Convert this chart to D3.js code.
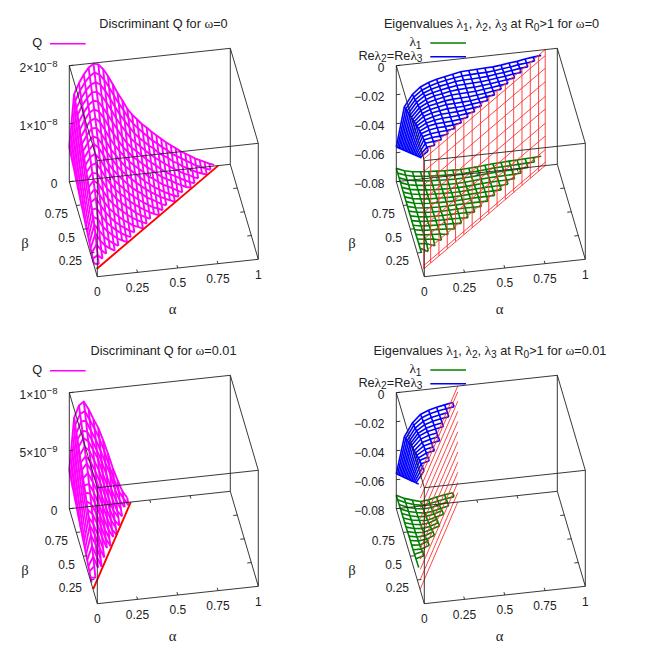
<!DOCTYPE html>
<html><head><meta charset="utf-8">
<script src="https://cdn.jsdelivr.net/npm/d3@7/dist/d3.min.js"></script>
<style>html,body{margin:0;padding:0;background:#fff}svg{display:block}</style>
</head><body><svg id="c" width="654" height="654"></svg>
<script>
// ---- grids ----
const alphaFine = [0,.03,.06,.09,.12,.15,.18,.21,.24,.27,.30,.33,.36,.39,.42,.45,.48,.51,.54,.57,.60,.63,.66,.69,.72,.75,.78,.81,.84,.87,.90];
const alphaCoarse = [0,.05,.10,.15,.20,.25,.30,.35,.40,.45,.50,.55,.60,.65,.70,.75,.80,.85,.90];
const betaFine0 = [1,.96,.92,.88,.84,.80,.76,.72,.68,.64,.60,.56,.52,.48,.44,.40,.36,.32,.28,.24,.20,.16,.12];
const betaFine1 = [1,.96,.92,.88,.84,.80,.76,.72,.68,.64,.60,.56,.52,.48,.44,.40,.36,.32,.28,.24,.20];
const betaCoarse0 = [1,.95,.90,.85,.80,.75,.70,.65,.60,.55,.50,.45,.40,.35,.30,.25,.20,.15,.10];
const betaCoarse1 = [1,.95,.90,.85,.80,.75,.70,.65,.60,.55,.50,.45,.40,.35,.30,.25,.20];

// ---- Q (units of 1e-8), omega = 0 ----
const qOmega0 = [
[.60,1.50,1.68,1.82,1.93,1.99,1.97,1.88,1.75,1.60,1.44,1.30,1.15,1.04,.95,.86,.79,.71,.64,.57,.50,.44,.38,.32,.27,.22,.17,.13,.09,.05,.02],
[.57,1.45,1.62,1.75,1.85,1.90,1.86,1.76,1.62,1.47,1.33,1.20,1.06,.95,.86,.78,.70,.62,.56,.49,.43,.36,.31,.26,.21,.16,.11,.08,.04,.01],
[.55,1.39,1.55,1.68,1.77,1.80,1.75,1.63,1.49,1.34,1.20,1.08,.96,.85,.76,.69,.61,.55,.47,.41,.36,.29,.25,.19,.15,.10,.06,.03,0],
[.52,1.33,1.50,1.61,1.70,1.70,1.62,1.50,1.36,1.21,1.08,.96,.84,.75,.68,.60,.53,.46,.40,.34,.28,.23,.18,.13,.10,.05,.02],
[.50,1.27,1.43,1.55,1.62,1.60,1.49,1.36,1.22,1.08,.95,.83,.74,.67,.59,.52,.45,.39,.32,.26,.21,.17,.12,.08,.04,.01],
[.47,1.21,1.37,1.49,1.54,1.49,1.37,1.22,1.08,.95,.83,.74,.65,.58,.51,.44,.38,.31,.25,.20,.16,.11,.07,.03,.01],
[.44,1.15,1.30,1.42,1.45,1.37,1.23,1.08,.95,.84,.74,.64,.57,.50,.43,.35,.30,.24,.18,.14,.10,.05,.01],
[.42,1.10,1.24,1.35,1.35,1.24,1.10,.95,.84,.73,.63,.56,.49,.42,.34,.28,.22,.17,.12,.08,.04,.01],
[.39,1.04,1.18,1.28,1.24,1.12,.97,.85,.73,.63,.55,.47,.40,.33,.27,.21,.16,.11,.07,.03,0],
[.37,.99,1.12,1.21,1.14,1.00,.85,.73,.63,.54,.46,.38,.32,.26,.19,.15,.10,.05,.02],
[.34,.93,1.06,1.11,1.01,.87,.75,.62,.53,.45,.37,.30,.24,.18,.13,.08,.05,.01],
[.31,.87,.99,1.01,.89,.75,.63,.52,.44,.37,.29,.23,.17,.12,.07,.03,0],
[.29,.81,.92,.90,.77,.63,.53,.43,.35,.28,.22,.15,.10,.06,.02],
[.26,.75,.85,.79,.65,.52,.42,.34,.27,.20,.14,.09,.05,.01],
[.23,.68,.77,.67,.53,.41,.33,.25,.18,.13,.07,.04,0],
[.21,.62,.68,.55,.42,.32,.24,.17,.11,.06,.02],
[.18,.56,.57,.43,.31,.23,.16,.10,.05,.01],
[.16,.50,.45,.31,.22,.15,.08,.04,0],
[.13,.43,.32,.21,.13,.07,.02],
[.10,.34,.21,.12,.06,.01],
[.08,.22,.11,.04],
[.05,.10,.03],
[.03,.01]];

// ---- Q (units of 1e-8), omega = 0.01 ----
const qOmega1 = [
[.33,.78,.88,.91,.84,.75,.67,.56,.44,.31,.20,.10,.04],
[.31,.75,.84,.86,.78,.70,.61,.50,.37,.25,.14,.07,.01],
[.30,.71,.81,.81,.72,.64,.54,.43,.33,.19,.09,.03],
[.28,.69,.76,.75,.67,.58,.48,.36,.23,.13,.05],
[.27,.66,.73,.70,.62,.54,.41,.29,.18,.07,.02],
[.25,.62,.69,.65,.56,.47,.35,.22,.11,.05],
[.24,.59,.64,.59,.50,.40,.28,.16,.06,.01],
[.22,.56,.61,.54,.45,.33,.21,.10,.03],
[.20,.52,.56,.48,.39,.27,.15,.05,0],
[.19,.49,.50,.42,.32,.20,.09,.02],
[.17,.46,.45,.36,.26,.13,.04],
[.16,.42,.39,.31,.19,.08,.01],
[.14,.38,.34,.25,.13,.03],
[.13,.35,.28,.18,.06],
[.11,.31,.23,.11,.02],
[.10,.26,.17,.05],
[.08,.20,.10,.01],
[.06,.14,.04],
[.05,.09],
[.03,.02],
[.02]];

// ---- Re lambda2 = Re lambda3 (units of -1e-3), omega = 0 ----
const reLambdaOmega0 = [
[56,29,21,16.5,14,12.3,11.2,10.1,9,8.7,8.5,8.2,8,7.4,6.5,6,5,4.3,3.7],
[53.2,27.2,19.6,15.4,13.1,11.5,10.4,9.4,8.6,8.3,8,7.9,7.4,6.6,6,5,4.4,3.7],
[50.3,25.3,18.1,14.2,12.1,10.7,9.6,8.6,8.1,8,7.7,7.4,6.6,5.9,5.1,4.3,3.8],
[47.4,23.5,16.6,12.8,11.2,9.9,8.9,8,7.8,7.5,7.3,6.7,5.9,5.2,4.3,3.8],
[44.6,21.7,15.2,12,10.2,9.2,8.1,7.6,7.3,7.1,6.6,5.9,5.2,4.4,3.7],
[41.7,19.9,13.8,11,9.5,8.4,7.4,7.2,6.9,6.6,5.9,5.2,4.4,3.7],
[38.9,18.1,12.4,10,8.8,7.6,7,6.8,6.5,5.9,5.3,4.4,3.8],
[36,16.3,11.2,9.1,8,6.9,6.7,6.4,6,5.2,4.4,3.8],
[33.2,14.4,10,8.2,7.2,6.4,6.2,5.9,5.1,4.4,3.8],
[30.3,12.6,9.1,7.5,6.4,6.1,5.8,5.2,4.4,3.8],
[27.5,11.1,8,6.7,5.9,5.6,5.2,4.5,3.8],
[24.6,9.6,7,5.9,5.5,5.2,4.5,3.7],
[21.8,8.2,6.3,5.3,5.1,4.5,3.7],
[18.9,7,5.5,5,4.5,3.7],
[16,5.9,4.8,4.5,3.7],
[13.2,5,4.4,3.7],
[10.3,4.4,3.7],
[7.5,3.8],
[4.7]];

// ---- lambda1 (units of -1e-3), omega = 0 ----
const lambda1Omega0 = [
[70.8,73,74.3,74.9,75.4,75.7,76,76.2,76.4,76.1,75.8,75.3,74.8,74.5,74.2,74,73.8,73.5,73.2],
[70.8,72.9,74.2,74.8,75.3,75.6,75.8,76,76.1,75.7,75.3,74.9,74.4,74.2,74,73.8,73.5,73.3],
[70.8,72.9,74,74.7,75.1,75.4,75.7,75.9,75.7,75.4,74.9,74.5,74.1,73.9,73.8,73.5,73.2],
[70.8,72.9,73.9,74.5,75,75.3,75.5,75.6,75.3,74.9,74.4,74.1,73.9,73.7,73.5,73.2],
[70.8,72.8,73.7,74.3,74.8,75,75.2,75.2,74.9,74.5,74.1,73.8,73.6,73.5,73.2],
[70.8,72.7,73.6,74.2,74.5,74.7,74.8,74.8,74.4,74,73.7,73.5,73.4,73.2],
[70.8,72.6,73.4,74,74.2,74.4,74.4,74.2,73.9,73.6,73.4,73.3,73.2],
[70.8,72.5,73.3,73.7,73.9,74,73.9,73.7,73.5,73.3,73.2,73.2],
[70.8,72.4,73.1,73.4,73.6,73.6,73.4,73.3,73.2,73.1,73.2],
[70.8,72.2,72.9,73.2,73.3,73.2,73,72.9,72.9,73],
[70.8,72,72.7,72.9,72.9,72.8,72.8,72.8,73],
[70.8,71.9,72.4,72.6,72.6,72.6,72.8,73],
[70.7,71.8,72.2,72.3,72.4,72.6,73],
[70.6,71.6,71.9,72.1,72.4,73],
[70.5,71.4,71.7,72,73],
[70.4,71.2,71.6,73],
[70.3,71,73],
[70.2,73],
[70.2]];

// ---- Re lambda2 = Re lambda3 (units of -1e-3), omega = 0.01 ----
const reLambdaOmega1 = [
[56,31,22,16.8,14.5,13,12,11],
[53,29,20.4,15.8,13.7,12.4,11.4,10.6],
[50.3,27,19,15,13,11.8,10.8],
[47.5,24.9,17.7,14,12.3,11.2,10.3],
[44.6,22.9,16.2,13.2,11.7,10.6],
[41.8,20.7,14.6,12.2,11,10],
[39,19,13.5,11.5,10.5],
[36.1,17.7,12.6,10.9,9.9],
[33.3,15.9,11.7,10.3,9.3],
[30.4,14.2,10.8,9.7],
[27.6,12.9,10.1,9.1],
[24.8,11.3,9.5],
[21.9,10.3,8.9],
[19.1,9.4],
[16.3,8.7],
[13.4],
[10.5]];

// ---- lambda1 (units of -1e-3), omega = 0.01 ----
const lambda1Omega1 = [
[70.8,73.5,75.3,76.8,76.3,75,74,73.2],
[70.6,73.2,75,76.2,75.6,74.4,73.4,72.6],
[70.5,73,74.5,75.5,75,73.8,72.4],
[70.3,72.7,74,75,74.3,73,71.8],
[70.2,72.4,73.6,74,73,71.2],
[70.1,72,73,73.4,72,70.5],
[70,71.7,72.6,72,70],
[69.8,71.3,72,71,69.2],
[69.6,71,71.2,69.8,68],
[69.4,70.6,70.3,68.2],
[69.2,70,69.5,67.4],
[69.1,69.6,67.6],
[69,69.2,67.2],
[68.8,67.6],
[68.6,67.2],
[68.4],
[68.2]];

// ---- R0 = 1 boundary and red plane ----
const boundaryAlpha0 = [.01,.925];
const boundaryBeta0 = [.08,1];
const boundaryAlpha1 = [.002,.382];
const boundaryBeta1 = [.155,1];
const planeVertAlpha0 = [.01,.0625,.125,.1875,.25,.3125,.375,.4375,.5,.5625,.625,.6875,.75,.8125,.875,.925];
const planeLevels0 = [0,-.0042,-.0129,-.0222,-.0323,-.041,-.0508,-.0596,-.069,-.0777,-.08];
const planeLevels1 = [0,-.004,-.0105,-.0175,-.0245,-.0315,-.0385,-.0455,-.0525,-.0595,-.0665,-.0735,-.08];

// ---- ticks ----
const alphaTicks = [0,.25,.5,.75,1];
const betaTicks = [.25,.5,.75];
const alphaTickLabels = ["0","0.25","0.5","0.75","1"];
const betaTickLabels = ["0.25","0.5","0.75"];
const eigTicks = [0,-.02,-.04,-.06,-.08];
const eigTickLabels = ["0","\u22120.02","\u22120.04","\u22120.06","\u22120.08"];

// ---- projection scales ----
const aX = d3.scaleLinear().domain([0,1]).range([0,161]);
const aY = d3.scaleLinear().domain([0,1]).range([0,-17.4]);
const bX = d3.scaleLinear().domain([0,1]).range([0,-28]);
const bY = d3.scaleLinear().domain([0,1]).range([0,-95]);
const ox = 97.3, oy = 276.7;
const sans = '"Liberation Sans",Arial,sans-serif', serif = '"Liberation Serif",serif';
const svg = d3.select("#c");
svg.append("rect").attr("width",654).attr("height",654).attr("fill","#fff");

function rich(g, x, y, anchor, segs, size){
  const t = g.append("text").attr("x",x).attr("y",y).attr("text-anchor",anchor)
    .attr("font-family",sans).attr("font-size",size||12).attr("fill","#222");
  let shift = 0;
  segs.forEach(s=>{
    const [txt,st] = Array.isArray(s)?s:[s,""];
    const want = st.includes("sub")?2.5:st.includes("sup")?-5:0;
    const ts = t.append("tspan").text(txt).attr("dy",want-shift);
    shift = want;
    if(st.includes("g")) ts.attr("font-family",serif).attr("font-size",(size||12)*1.05);
    if(st.includes("sub")||st.includes("sup")) ts.attr("font-size",(size||12)*0.8);
  });
  return t;
}
const G = s=>[s,"g"], SUB = s=>[s,"sub"], SUP = s=>[s,"sup"];

function panel(px,py,cfg){
  const g = svg.append("g").attr("transform",`translate(${px},${py})`);
  const zH = d3.scaleLinear().domain(cfg.zDomain).range([0,-116]);
  const P = (a,b,z)=>[ox+aX(a)+bX(b), oy+aY(a)+bY(b)+zH(z)];
  const line = d3.line();
  const zMin = cfg.zDomain[0], zMax = cfg.zDomain[1];

  // surfaces
  cfg.surfaces.forEach(s=>{
    const paths = [];
    s.rows.forEach((row,j)=>paths.push(row.map((v,i)=>P(s.alpha[i],s.beta[j],v*s.unit))));
    s.alpha.forEach((a,i)=>{
      const col = [];
      s.rows.forEach((row,j)=>{ if(i<row.length) col.push(P(a,s.beta[j],row[i]*s.unit)); });
      if(col.length>1) paths.push(col);
    });
    g.append("g").selectAll("path").data(paths).join("path")
      .attr("d",d=>line(d)).attr("fill","none").attr("stroke",s.color).attr("stroke-width",s.w);
  });

  // red plane
  if(cfg.plane){
    const bA=cfg.bAlpha, bB=cfg.bBeta;
    const betaOf = d3.scaleLinear().domain(bA).range(bB);
    const pg = g.append("g").attr("stroke","#ff3030").attr("stroke-width",.9).attr("fill","none");
    cfg.plane.levels.forEach(z=>pg.append("path").attr("d",line(bA.map((a,i)=>P(a,bB[i],z)))));
    cfg.plane.verts.forEach(a=>pg.append("path").attr("d",line([P(a,betaOf(a),zMin),P(a,betaOf(a),zMax)])));
  } else {
    g.append("path").attr("d",line(cfg.bAlpha.map((a,i)=>P(a,cfg.bBeta[i],0))))
      .attr("fill","none").attr("stroke","#f00").attr("stroke-width",1.9);
  }

  // box
  const box = [
   [[0,0,zMin],[1,0,zMin]],[[1,0,zMin],[1,1,zMin]],[[1,1,zMin],[0,1,zMin]],[[0,1,zMin],[0,0,zMin]],
   [[0,0,zMax],[1,0,zMax]],[[1,0,zMax],[1,1,zMax]],[[1,1,zMax],[0,1,zMax]],[[0,1,zMax],[0,0,zMax]],
   [[0,0,zMin],[0,0,zMax]],[[1,0,zMin],[1,0,zMax]],[[1,1,zMin],[1,1,zMax]],[[0,1,zMin],[0,1,zMax]]];
  const bg = g.append("g").attr("stroke","#222").attr("stroke-width",.9).attr("fill","none");
  box.forEach(e=>bg.append("path").attr("d",line(e.map(p=>P(...p)))));
  alphaTicks.slice(1,4).forEach(a=>{
    bg.append("path").attr("d",line([P(a,0,zMin),P(a,.03,zMin)]));
    bg.append("path").attr("d",line([P(a,1,zMin),P(a,.97,zMin)]));
  });
  betaTicks.forEach(b=>{
    bg.append("path").attr("d",line([P(0,b,zMin),P(.025,b,zMin)]));
    bg.append("path").attr("d",line([P(1,b,zMin),P(.975,b,zMin)]));
  });
  cfg.zTicks.forEach(z=>{
    bg.append("path").attr("d",line([P(0,1,z),P(.025,1,z)]));
  });

  // tick labels
  alphaTicks.forEach((a,i)=>{ const p=P(a,0,zMin); rich(g,p[0],p[1]+19.3,"middle",[alphaTickLabels[i]]); });
  betaTicks.forEach((b,i)=>{ const p=P(0,b,zMin); rich(g,p[0]-8.3,p[1]+12.3,"end",[betaTickLabels[i]]); });
  cfg.zTicks.forEach((z,i)=>{ const p=P(0,1,z); rich(g,57.5,p[1]+6.5,"end",cfg.zLabels[i]); });
  rich(g,172.7,314,"middle",[G("\u03b1")],14);
  rich(g,25,247.5,"middle",[G("\u03b2")],14);
  rich(g,cfg.titleX,28,"middle",cfg.title,12.7);

  // legend
  cfg.legend.forEach(l=>{
    rich(g,l.x,l.y+3.2,"end",l.label,12.7);
    g.append("path").attr("d",line([[l.x0,l.y],[l.x1,l.y]])).attr("stroke",l.color).attr("stroke-width",1.5);
  });
}

const qLegend=[{label:["Q"],x:42,y:43.7,x0:50,x1:85.7,color:"#ff00ff"}];
const eigLegend=[
 {label:[G("\u03bb"),SUB("1")],x:94.5,y:43,x0:103.3,x1:139,color:"#008000"},
 {label:["Re",G("\u03bb"),SUB("2"),"=Re",G("\u03bb"),SUB("3")],x:95.5,y:56.7,x0:103.3,x1:139,color:"#0000ff"}];
const eigTitle = w=>["Eigenvalues ",G("\u03bb"),SUB("1"),", ",G("\u03bb"),SUB("2"),", ",G("\u03bb"),SUB("3")," at R",SUB("0"),">1 for ",G("\u03c9"),"="+w];
const qTitle = w=>["Discriminant Q for ",G("\u03c9"),"="+w];
const eigZ = eigTickLabels.map(s=>[s]);

panel(0,0,{zDomain:[0,2],zTicks:[0,1,2],zLabels:[["0"],["1\u00d710",SUP("\u22128")],["2\u00d710",SUP("\u22128")]],
  title:qTitle("0"),titleX:163.5,legend:qLegend,bAlpha:boundaryAlpha0,bBeta:boundaryBeta0,
  surfaces:[{rows:qOmega0,alpha:alphaFine,beta:betaFine0,unit:1,color:"#ff00ff",w:1.9}]});
panel(327,0,{zDomain:[-.08,0],zTicks:eigTicks,zLabels:eigZ,title:eigTitle("0"),titleX:164.5,legend:eigLegend,
  bAlpha:boundaryAlpha0,bBeta:boundaryBeta0,plane:{levels:planeLevels0,verts:planeVertAlpha0},
  surfaces:[{rows:lambda1Omega0,alpha:alphaCoarse,beta:betaCoarse0,unit:-1e-3,color:"#008000",w:1.6},
            {rows:reLambdaOmega0,alpha:alphaCoarse,beta:betaCoarse0,unit:-1e-3,color:"#0000ff",w:1.6}]});
panel(0,327,{zDomain:[0,1],zTicks:[0,.5,1],zLabels:[["0"],["5\u00d710",SUP("\u22129")],["1\u00d710",SUP("\u22128")]],
  title:qTitle("0.01"),titleX:163.5,legend:qLegend,bAlpha:boundaryAlpha1,bBeta:boundaryBeta1,
  surfaces:[{rows:qOmega1,alpha:alphaFine,beta:betaFine1,unit:1,color:"#ff00ff",w:1.9}]});
panel(327,327,{zDomain:[-.08,0],zTicks:eigTicks,zLabels:eigZ,title:eigTitle("0.01"),titleX:163,legend:eigLegend,
  bAlpha:boundaryAlpha1,bBeta:boundaryBeta1,plane:{levels:planeLevels1,verts:[]},
  surfaces:[{rows:lambda1Omega1,alpha:alphaCoarse,beta:betaCoarse1,unit:-1e-3,color:"#008000",w:1.6},
            {rows:reLambdaOmega1,alpha:alphaCoarse,beta:betaCoarse1,unit:-1e-3,color:"#0000ff",w:1.6}]});
</script></body></html>
